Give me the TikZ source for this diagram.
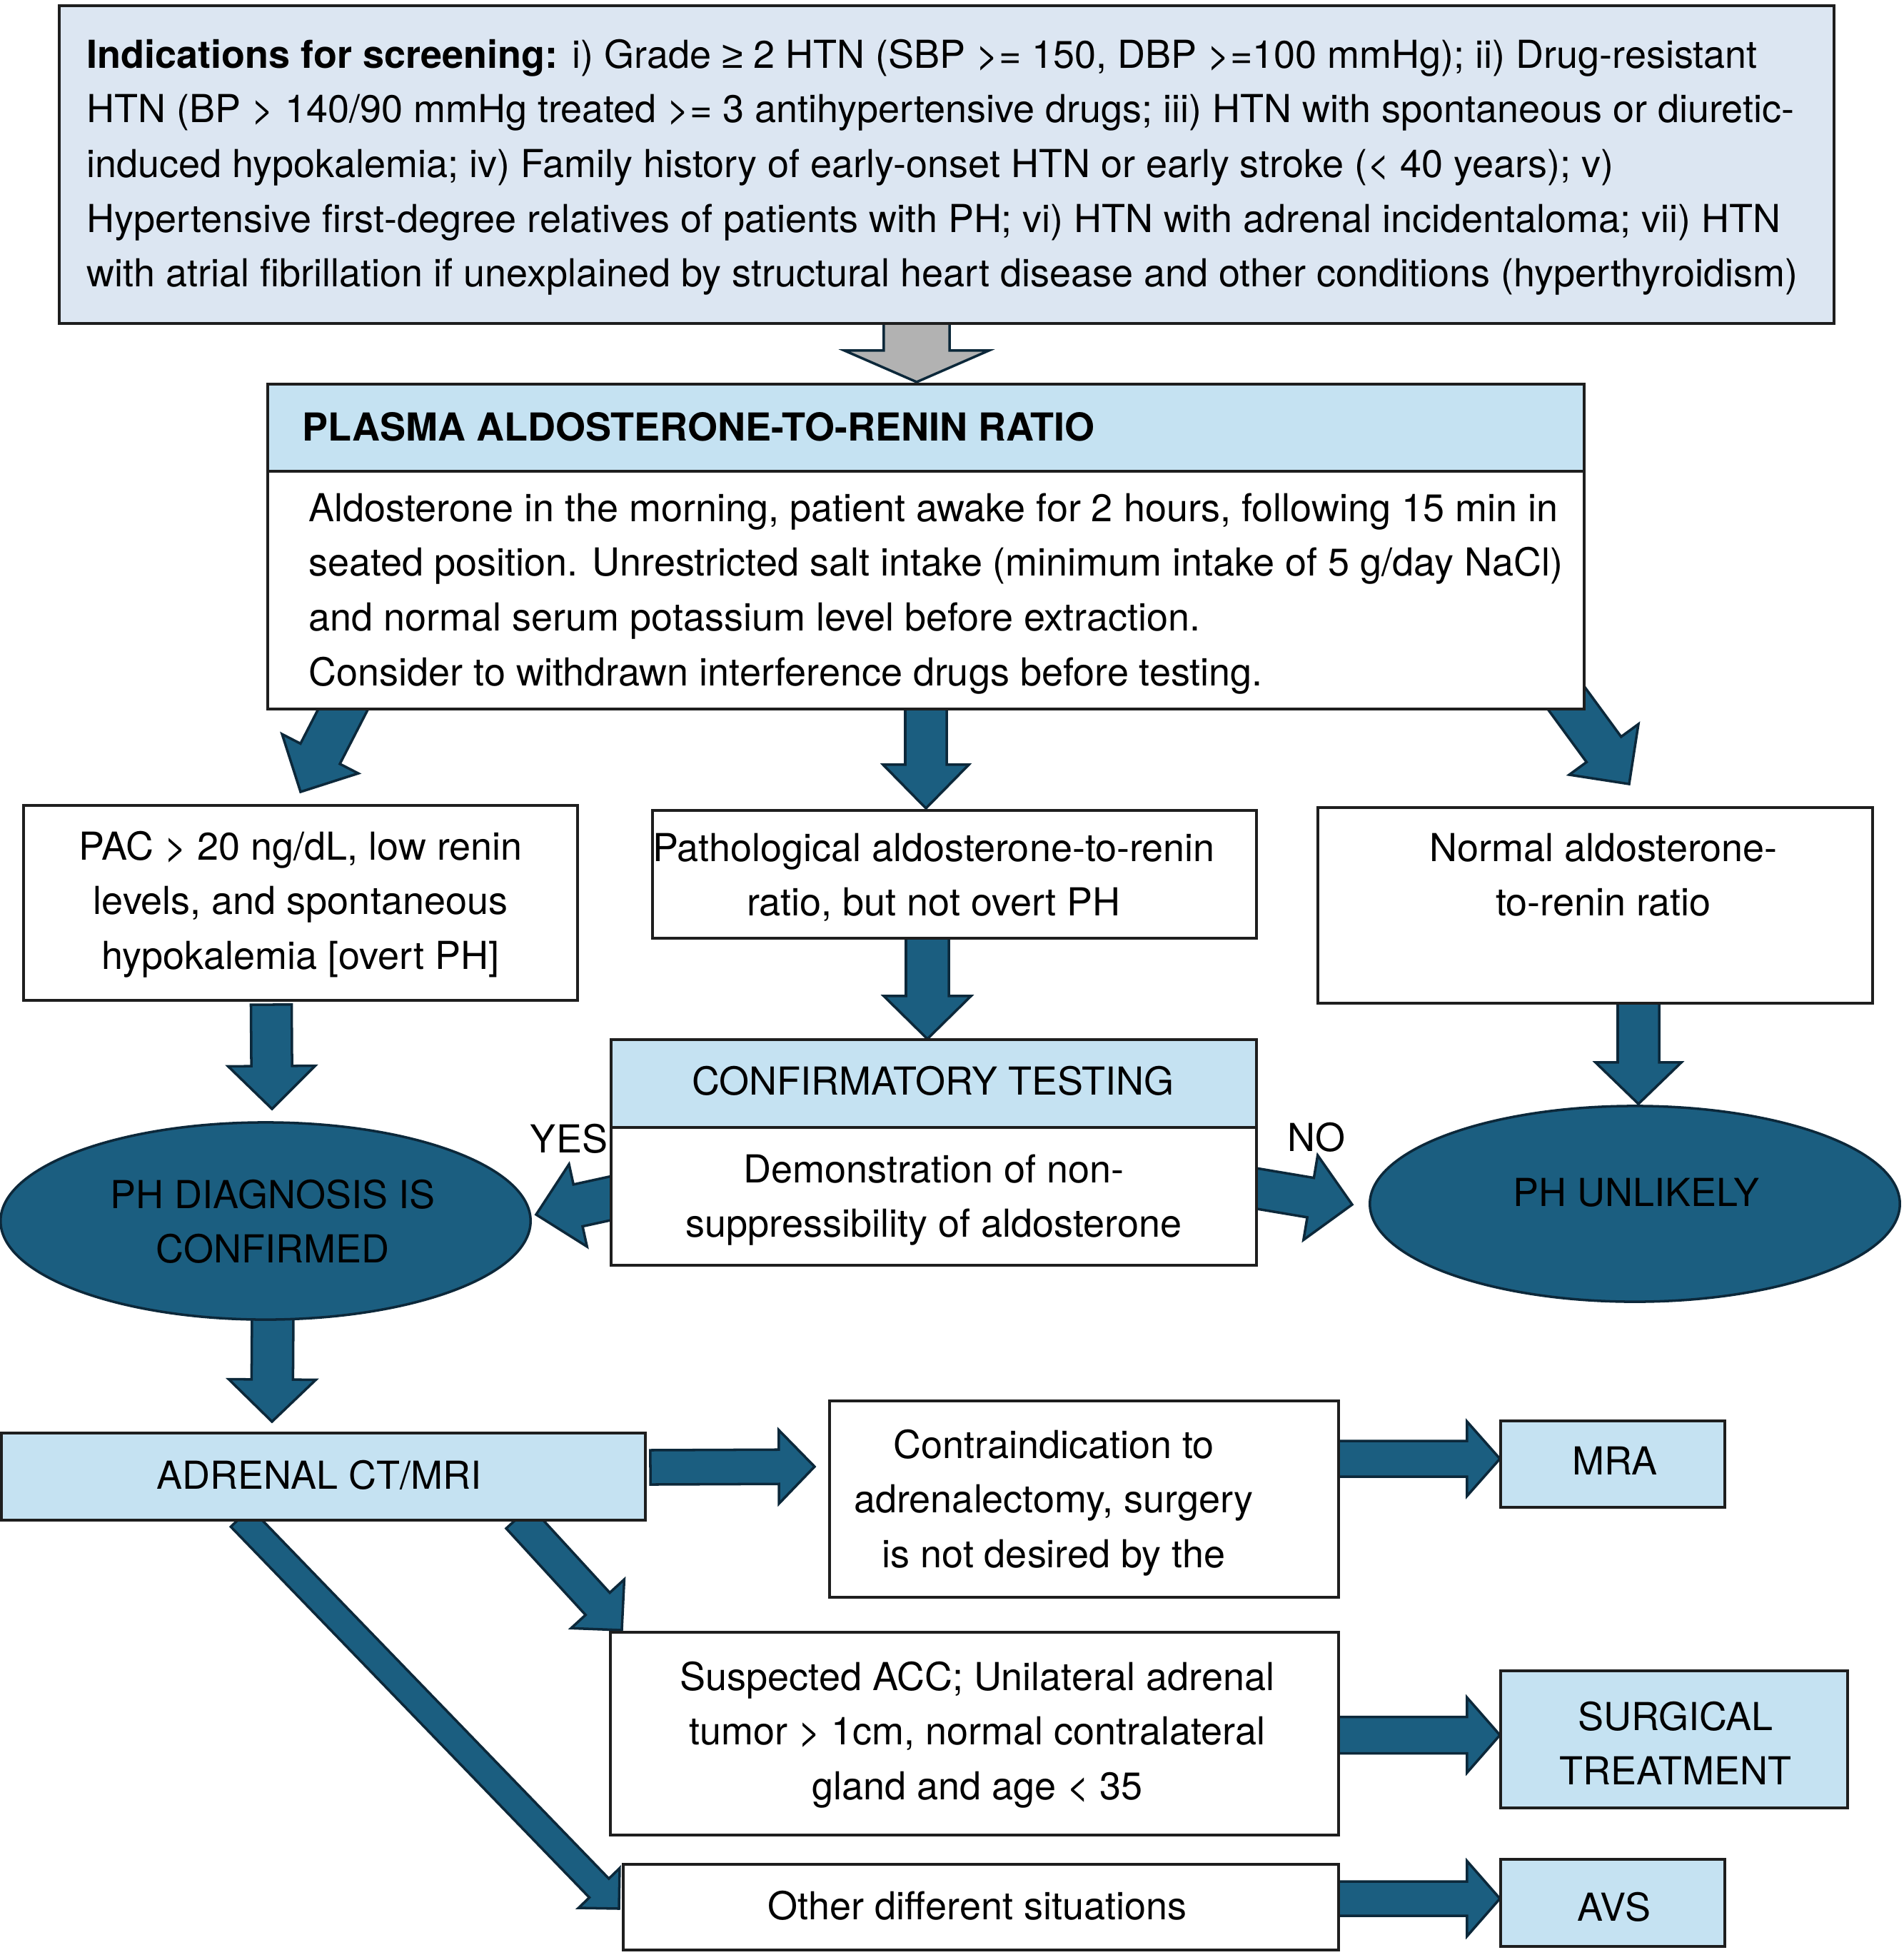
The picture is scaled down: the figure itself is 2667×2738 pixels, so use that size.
\documentclass[tikz,border=0pt]{standalone}
\usepackage{fontspec}
\setmainfont{TeX Gyre Heros}
\newfontfamily\libf{Liberation Sans}
\usetikzlibrary{calc,fit,shapes.geometric}
\definecolor{arrowblue}{RGB}{27,94,128}
\definecolor{arrowline}{RGB}{12,40,58}
\definecolor{topfill}{RGB}{220,230,242}
\definecolor{headfill}{RGB}{197,226,242}
\definecolor{grayarrow}{RGB}{178,178,178}
\definecolor{boxline}{RGB}{30,30,30}
\pgfdeclarelayer{bg}
\pgfsetlayers{bg,main}
\newcommand{\strt}{\rule[-0.235cm]{0pt}{0.765cm}}
\newcommand{\fatarrow}[6][arrowblue]{%
  \coordinate (fah) at ($(#3)!#6!(#2)$);
  \filldraw[fill=#1, draw=arrowline, line width=1pt, line join=miter, miter limit=10]
    ($(#2)!#4!90:(#3)$) -- ($(fah)!#4!90:(#3)$) -- ($(fah)!#5!90:(#3)$) -- (#3)
    -- ($(fah)!#5!-90:(#3)$) -- ($(fah)!#4!-90:(#3)$) -- ($(#2)!#4!-90:(#3)$) -- cycle;
}
\tikzset{
  box/.style={draw=boxline, line width=0.9pt, fill=white, inner sep=0pt},
  lbox/.style={box, fill=headfill},
  tbox/.style={box, fill=topfill, line width=1pt},
  oval/.style={ellipse, draw=arrowline, line width=1pt, fill=arrowblue, inner sep=0pt},
  txt/.style={inner sep=0pt, align=center, anchor=north, execute at begin node=\strt},
  ltxt/.style={inner sep=0pt, align=left, anchor=north west, execute at begin node=\strt},
  txtm/.style={txt, yshift=-0.14cm},
  ltxtm/.style={ltxt, yshift=-0.14cm},
}
\begin{document}
\begin{tikzpicture}[x=0.01cm,y=-0.01cm,font=\fontsize{15.35pt}{21.8pt}\selectfont]
\useasboundingbox (0,0) rectangle (2667,2738);
\begin{pgfonlayer}{bg}
\fill[white] (0,0) rectangle (2667,2738);
\end{pgfonlayer}

% boxes
\node[tbox, fit={(83,8) (2569,453)}] (top) {};
\node[lbox, fit={(375,538) (2219,660)}] (plasmahead) {};
\node[box, fit={(375,660) (2219,993)}] (plasma) {};
\node[box, fit={(33,1128) (809,1401)}] (pac) {};
\node[box, fit={(914,1135) (1760,1314)}] (patho) {};
\node[box, fit={(1846,1131) (2623,1405)}] (normal) {};
\node[lbox, fit={(856,1456) (1760,1579)}] (confhead) {};
\node[box, fit={(856,1579) (1760,1772)}] (conf) {};
\node[oval, minimum width=7.42cm, minimum height=2.76cm] (diag) at (372,1710) {};
\node[oval, minimum width=7.42cm, minimum height=2.74cm] (unl) at (2290,1686) {};
\node[lbox, fit={(2,2007) (904,2129)}] (adrenal) {};
\node[box, fit={(1162,1962) (1875,2237)}] (contra) {};
\node[lbox, fit={(2102,1990) (2416,2111)}] (mra) {};
\node[box, fit={(855,2286) (1875,2570)}] (susp) {};
\node[lbox, fit={(2102,2340) (2588,2532)}] (surg) {};
\node[box, fit={(873,2611) (1875,2731)}] (other) {};
\node[lbox, fit={(2102,2604) (2416,2726)}] (avs) {};

% texts
\node[ltxtm] (topt) at (121,40) {\textbf{Indications for screening:} i) Grade {\libf ≥} 2 HTN (SBP >= 150, DBP >=100 mmHg); ii) Drug-resistant\\\strt
HTN (BP > 140/90 mmHg treated >= 3 antihypertensive drugs; iii) HTN with spontaneous or diuretic-\\\strt
induced hypokalemia; iv) Family history of early-onset HTN or early stroke (< 40 years); v)\\\strt
Hypertensive first-degree relatives of patients with PH; vi) HTN with adrenal incidentaloma; vii) HTN\\\strt
with atrial fibrillation if unexplained by structural heart disease and other conditions (hyperthyroidism)};
\node[ltxt] (plasmat) at (423,564) {\textbf{PLASMA ALDOSTERONE-TO-RENIN RATIO}};
\node[ltxtm] (plasmab) at (432,676) {Aldosterone in the morning, patient awake for 2 hours, following 15 min in\\\strt
seated position. Unrestricted salt intake (minimum intake of 5 g/day NaCl)\\\strt
and normal serum potassium level before extraction.\\\strt
Consider to withdrawn interference drugs before testing.};
\node[txtm] (pact) at (421,1149) {PAC > 20 ng/dL, low renin\\\strt levels, and spontaneous\\\strt hypokalemia [overt PH]};
\node[txtm] (pathot) at (1308,1152) {Pathological aldosterone-to-renin\\\strt ratio, but not overt PH};
\node[txtm] (normalt) at (2246,1152) {Normal aldosterone-\\\strt to-renin ratio};
\node[txt] (confht) at (1307,1480) {CONFIRMATORY TESTING};
\node[txtm] (conft) at (1308,1602) {Demonstration of non-\\\strt suppressibility of aldosterone};
\node[txt] (yes) at (797,1561) {YES};
\node[txt] (no) at (1844,1559) {NO};
\node[txtm] (diagt) at (382,1637) {PH DIAGNOSIS IS\\\strt CONFIRMED};
\node[txt] (unlt) at (2292,1636) {PH UNLIKELY};
\node[txt] (adrt) at (447,2032) {ADRENAL CT/MRI};
\node[txtm] (contrat) at (1476,1987) {Contraindication to\\\strt adrenalectomy, surgery\\\strt is not desired by the};
\node[txt] (mrat) at (2262,2012) {MRA};
\node[txtm] (suspt) at (1369,2312) {Suspected ACC; Unilateral adrenal\\\strt tumor > 1cm, normal contralateral\\\strt gland and age < 35};
\node[txtm] (surgt) at (2347,2368) {SURGICAL\\\strt TREATMENT};
\node[txt] (othert) at (1369,2635) {Other different situations};
\node[txt] (avst) at (2261,2637) {AVS};

% arrow end points
\coordinate (gs) at (1284,440);   \coordinate (gt) at (1284,535);
\coordinate (a1s) at (490,975);   \coordinate (a1t) at (421,1109);
\coordinate (a2s) at (1297,985);  \coordinate (a2t) at (1297,1132);
\coordinate (a3s) at (2170,945);  \coordinate (a3t) at (2282,1098);
\coordinate (a4s) at (380,1407);  \coordinate (a4t) at (381,1553);
\coordinate (a5s) at (1299,1305); \coordinate (a5t) at (1299,1455);
\coordinate (ys) at (870,1675);   \coordinate (yt) at (751,1701);
\coordinate (ns) at (1745,1662);  \coordinate (nt) at (1894,1687);
\coordinate (a6s) at (2295,1398); \coordinate (a6t) at (2295,1546);
\coordinate (a7s) at (382,1835);  \coordinate (a7t) at (381,1991);
\coordinate (a8s) at (911,2055);  \coordinate (a8t) at (1141,2054);
\coordinate (a9s) at (1870,2043); \coordinate (a9t) at (2101,2043);
\coordinate (a10s) at (1870,2430); \coordinate (a10t) at (2101,2430);
\coordinate (a11s) at (1870,2659); \coordinate (a11t) at (2101,2659);
\coordinate (d1s) at (726,2125);  \coordinate (d1t) at (871,2283);
\coordinate (d2s) at (337,2125);  \coordinate (d2t) at (867,2673);

\begin{pgfonlayer}{bg}
\fatarrow[grayarrow]{gs}{gt}{0.46cm}{1.01cm}{0.44cm}
\fatarrow{a1s}{a1t}{0.31cm}{0.60cm}{0.60cm}
\fatarrow{a2s}{a2t}{0.29cm}{0.60cm}{0.61cm}
\fatarrow{a3s}{a3t}{0.30cm}{0.60cm}{0.60cm}
\fatarrow{a4s}{a4t}{0.285cm}{0.61cm}{0.60cm}
\fatarrow{a5s}{a5t}{0.30cm}{0.61cm}{0.60cm}
\fatarrow{ys}{yt}{0.30cm}{0.59cm}{0.60cm}
\fatarrow{ns}{nt}{0.28cm}{0.60cm}{0.59cm}
\fatarrow{a6s}{a6t}{0.29cm}{0.60cm}{0.58cm}
\fatarrow{a7s}{a7t}{0.29cm}{0.61cm}{0.59cm}
\fatarrow{a8s}{a8t}{0.24cm}{0.515cm}{0.50cm}
\fatarrow{a9s}{a9t}{0.25cm}{0.52cm}{0.46cm}
\fatarrow{a10s}{a10t}{0.255cm}{0.525cm}{0.46cm}
\fatarrow{a11s}{a11t}{0.24cm}{0.525cm}{0.46cm}
\fatarrow{d1s}{d1t}{0.23cm}{0.505cm}{0.50cm}
\fatarrow{d2s}{d2t}{0.19cm}{0.40cm}{0.40cm}
\end{pgfonlayer}
\end{tikzpicture}
\end{document}
